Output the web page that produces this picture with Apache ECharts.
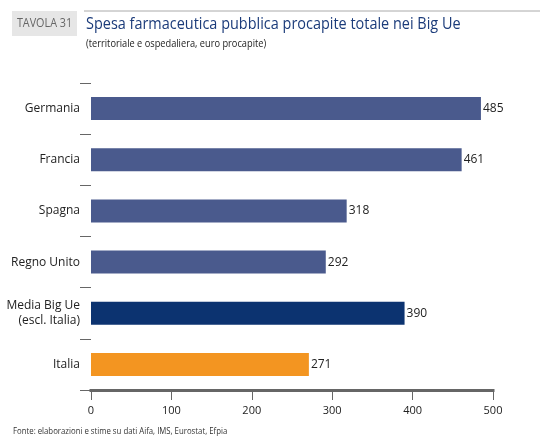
<!DOCTYPE html>
<html>
<head>
<meta charset="utf-8">
<script src="https://cdn.jsdelivr.net/npm/echarts@6/dist/echarts.min.js"></script>
<style>
html,body{margin:0;padding:0;background:#fff;}
#chart{width:540px;height:442px;}
</style>
</head>
<body>
<div id="chart"></div>
<script>
var categories = ['Germania', 'Francia', 'Spagna', 'Regno Unito', 'Media Big Ue\n(escl. Italia)', 'Italia'];
var values = [485, 461, 318, 292, 390, 271];
var barColors = ['#4a5a8d', '#4a5a8d', '#4a5a8d', '#4a5a8d', '#0c3370', '#f39521'];
var xTicks = [0, 100, 200, 300, 400, 500];

var FONT = '"Open Sans", "Liberation Sans", sans-serif';
var chart = echarts.init(document.getElementById('chart'), null, {renderer: 'canvas'});
chart.setOption({
  animation: false,
  backgroundColor: '#fff',
  graphic: [
    {type: 'rect', shape: {x: 12, y: 11, width: 65, height: 25}, style: {fill: '#e6e6e6'}},
    {type: 'text', x: 44.5, y: 23.5, scaleX: 0.9, style: {text: 'TAVOLA 31', fontFamily: FONT, fontSize: 12, fill: '#666', align: 'center', verticalAlign: 'middle'}},
    {type: 'line', shape: {x1: 84, y1: 11, x2: 540, y2: 11}, style: {stroke: '#aaa', lineWidth: 1}},
    {type: 'text', x: 86, y: 24, scaleX: 0.85, style: {text: 'Spesa farmaceutica pubblica procapite totale nei Big Ue', fontFamily: FONT, fontSize: 17, fill: '#1b3b7a', align: 'left', verticalAlign: 'middle'}},
    {type: 'text', x: 86, y: 44, scaleX: 0.88, style: {text: '(territoriale e ospedaliera, euro procapite)', fontFamily: FONT, fontSize: 10.5, fill: '#222', align: 'left', verticalAlign: 'middle'}},
    {type: 'text', x: 13, y: 431, scaleX: 0.82, style: {text: 'Fonte: elaborazioni e stime su dati Aifa, IMS, Eurostat, Efpia', fontFamily: FONT, fontSize: 9.5, fill: '#333', align: 'left', verticalAlign: 'middle'}}
  ],
  grid: {left: 91, right: 47, top: 83, bottom: 52, containLabel: false},
  xAxis: {
    type: 'value', min: 0, max: 500, interval: 100,
    splitLine: {show: false},
    axisLine: {show: true, lineStyle: {color: '#666', width: 3, cap: 'square'}},
    axisTick: {show: true, length: 10, lineStyle: {color: '#666', width: 1}},
    axisLabel: {
      margin: 15, fontFamily: FONT, fontSize: 11, color: '#222',
      formatter: function (v) { return xTicks.indexOf(v) >= 0 ? String(v) : ''; }
    }
  },
  yAxis: {
    type: 'category', data: categories, inverse: true, offset: 5,
    axisLine: {show: false},
    axisTick: {show: true, length: 11, lineStyle: {color: '#666', width: 1}},
    axisLabel: {margin: 6, fontFamily: FONT, fontSize: 12, color: '#222', lineHeight: 15, align: 'right'}
  },
  series: [{
    type: 'bar',
    data: values.map(function (v, i) { return {value: v, itemStyle: {color: barColors[i]}}; }),
    barWidth: 23,
    label: {show: true, position: 'right', distance: 2, fontFamily: FONT, fontSize: 12, color: '#222'}
  }]
});
</script>
</body>
</html>
